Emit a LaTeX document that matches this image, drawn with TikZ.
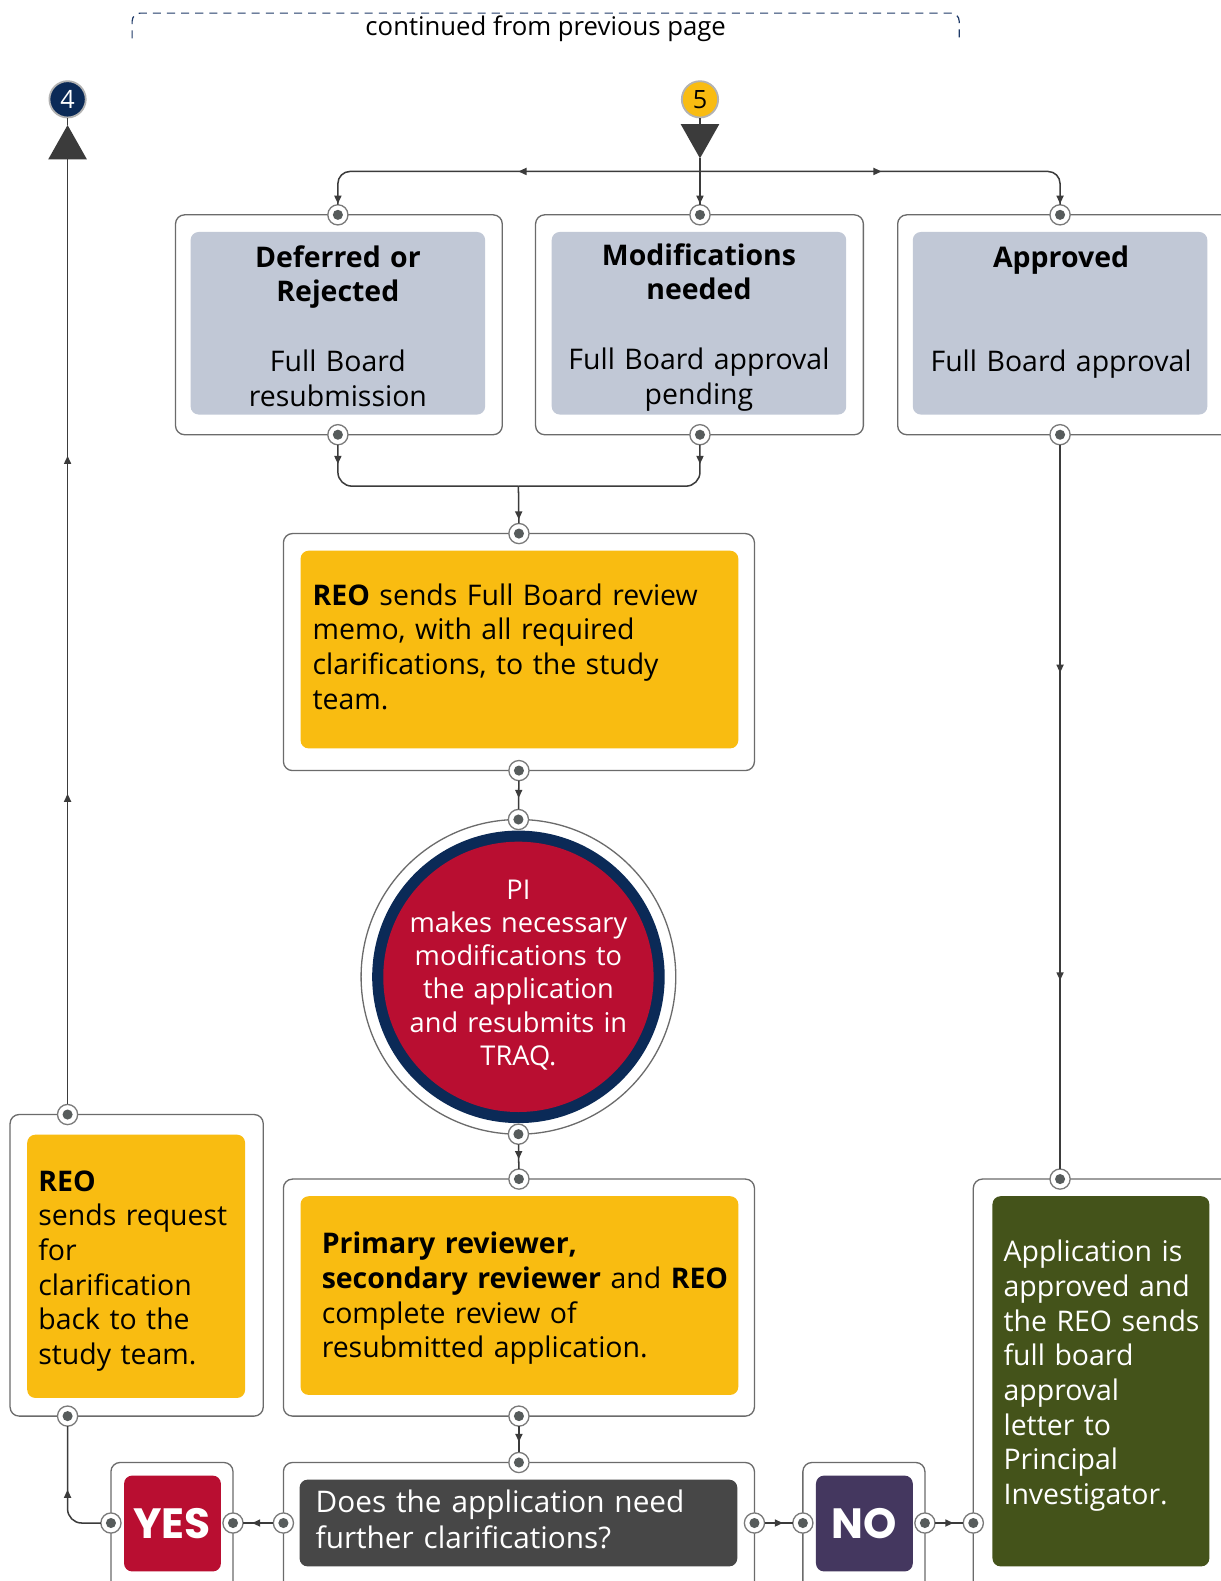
\documentclass[tikz,border=0pt]{standalone}
\usepackage{fontspec}
\setmainfont{Open Sans}
\newfontfamily\geofont{Poppins}
\usetikzlibrary{arrows.meta,decorations.markings,calc}

\definecolor{linec}{HTML}{3B3B3B}
\definecolor{boxline}{HTML}{6B6B6B}
\definecolor{portring}{HTML}{7A7A7A}
\definecolor{dotc}{HTML}{575C5C}
\definecolor{navy}{HTML}{0B2A57}
\definecolor{dashc}{HTML}{1F3A68}
\definecolor{gold}{HTML}{F9BC11}
\definecolor{lgray}{HTML}{C1C8D6}
\definecolor{crimson}{HTML}{B90E31}
\definecolor{dgray}{HTML}{474747}
\definecolor{purp}{HTML}{44375F}
\definecolor{olive}{HTML}{44531A}

\newcommand\fbody{\fontsize{28.2}{34.4}\selectfont}

\begin{document}
\begin{tikzpicture}[x=1pt,y=-1pt,
  outerbox/.style={draw=boxline, fill=white, line width=1.3pt, rounded corners=9pt, inner sep=0pt, outer sep=0pt},
  innerbox/.style={rounded corners=8pt, inner sep=0pt, outer sep=0pt},
  port/.style={circle, draw=portring, fill=white, line width=1.3pt, minimum size=20pt, inner sep=0pt, outer sep=0pt,
    path picture={\fill[dotc] (path picture bounding box.center) circle (5pt);}},
  conn/.style={draw=linec, line width=1.5pt},
  tipat/.style={postaction={decorate,decoration={markings,mark=at position #1 with {\arrow{Triangle[length=8pt,width=7pt]}}}}},
  bigtip/.style={-{Triangle[length=34pt,width=38pt]}},
  txt/.style={inner sep=0pt, outer sep=0pt, font=\fbody},
  numc/.style={circle, minimum size=36pt, inner sep=0pt, draw=gray!60, line width=1.8pt, font=\fontsize{25}{30}\selectfont},
  bigword/.style={inner sep=0pt, outer sep=0pt, text=white, font=\geofont\fontsize{42}{48}\selectfont\bfseries}
]
\useasboundingbox (0,0) rectangle (1210.5,1567.5);
\fill[white] (0,0) rectangle (1210.5,1567.5);

% header
\draw[dashc, line width=1.2pt, dash pattern=on 8pt off 6pt, rounded corners=8pt] (131,38) -- (131,13) -- (951,13) -- (951,38);
\node[txt, font=\fontsize{25.5}{30}\selectfont, anchor=base] (cont) at (541,35) {continued from previous page};

\node[numc, fill=navy, text=white] (n4) at (67,98.5) {4};
\node[numc, fill=gold, text=black] (n5) at (694,98.5) {5};

% row 1 boxes
\node[outerbox, minimum width=324pt, minimum height=218pt] (bA) at (336,322) {};
\node[innerbox, fill=lgray, minimum width=292pt, minimum height=181pt] (iA) at (335,320.5) {};
\node[outerbox, minimum width=325pt, minimum height=218pt] (bB) at (693.5,322) {};
\node[innerbox, fill=lgray, minimum width=292pt, minimum height=181pt] (iB) at (693,320.5) {};
\node[outerbox, minimum width=345pt, minimum height=218pt] (bC) at (1062.5,322) {};
\node[innerbox, fill=lgray, minimum width=292pt, minimum height=181pt] (iC) at (1051,320.5) {};

\node[txt, text width=300pt, align=center, anchor=base] (tA) at (335,265) {{\bfseries Deferred or\\Rejected}\\[34.5pt]Full Board\\resubmission};
\node[txt, text width=300pt, align=center, anchor=base] (tB) at (693,263) {{\bfseries Modifications\\needed}\\[34.5pt]Full Board approval\\pending};
\node[txt, text width=300pt, align=center, anchor=base] (tC) at (1052,265) {{\bfseries Approved}\\[68.7pt]Full Board approval};

% memo box
\node[outerbox, minimum width=467pt, minimum height=235pt] (bM) at (514.5,646.5) {};
\node[innerbox, fill=gold, minimum width=434pt, minimum height=196pt] (iM) at (515,644) {};
\node[txt, text width=430pt, align=left, anchor=base west] (tM) at (310,600) {\textbf{REO} sends Full Board review\\memo, with all required\\clarifications, to the study\\team.};

% circle
\node[circle, draw=boxline, fill=white, line width=1.3pt, minimum size=312pt, inner sep=0pt, outer sep=0pt] (cO) at (514,968.5) {};
\node[circle, fill=navy, minimum size=290pt, inner sep=0pt] (cN) at (cO) {};
\node[circle, fill=crimson, minimum size=268pt, inner sep=0pt] (cR) at (cO) {};
\node[txt, font=\fontsize{27}{32.8}\selectfont, text=white, text width=260pt, align=center, anchor=base] (tCirc) at (514,892) {PI\\makes necessary\\modifications to\\the application\\and resubmits in\\TRAQ.};

% primary reviewer box
\node[outerbox, minimum width=467pt, minimum height=235pt] (bP) at (514.5,1286.5) {};
\node[innerbox, fill=gold, minimum width=434pt, minimum height=197pt] (iP) at (515,1284.5) {};
\node[txt, text width=430pt, align=left, anchor=base west] (tP) at (319,1243) {\textbf{Primary reviewer,}\\\textbf{secondary reviewer} and \textbf{REO}\\complete review of\\resubmitted application.};

% question box
\node[outerbox, minimum width=467pt, minimum height=150pt] (bQ) at (514.5,1525) {};
\node[innerbox, fill=dgray, minimum width=434pt, minimum height=86pt] (iQ) at (514,1510) {};
\node[txt, text=white, font=\fontsize{29.5}{35}\selectfont, text width=430pt, align=left, anchor=base west] (tQ) at (313,1500) {Does the application need\\further clarifications?};

% YES / NO
\node[outerbox, minimum width=121pt, minimum height=150pt] (bY) at (170.5,1525) {};
\node[innerbox, fill=crimson, minimum width=96pt, minimum height=95pt] (iY) at (171,1510.5) {};
\node[bigword, anchor=base] (tY) at (170.5,1525.5) {YES};
\node[outerbox, minimum width=121pt, minimum height=150pt] (bN) at (856.5,1525) {};
\node[innerbox, fill=purp, minimum width=96pt, minimum height=95pt] (iN) at (857,1510.5) {};
\node[bigword, anchor=base] (tN) at (857,1525.5) {NO};

% green box
\node[outerbox, minimum width=270pt, minimum height=431pt] (bG) at (1100,1384.5) {};
\node[innerbox, fill=olive, minimum width=215pt, minimum height=367pt] (iG) at (1091.5,1369.5) {};
\node[txt, text=white, text width=210pt, align=left, anchor=base west] (tG) at (995,1251) {Application is\\approved and\\the REO sends\\full board\\approval\\letter to\\Principal\\Investigator.};

% REO clarification box
\node[outerbox, minimum width=251pt, minimum height=299pt] (bR) at (135.5,1254.5) {};
\node[innerbox, fill=gold, minimum width=216pt, minimum height=261pt] (iR) at (135,1255.5) {};
\node[txt, text width=210pt, align=left, anchor=base west] (tR) at (38,1181) {\textbf{REO}\\sends request\\for\\clarification\\back to the\\study team.};

% ports
\node[port] (pA1) at (iA.north |- bA.north) {};
\node[port] (pA2) at (iA.south |- bA.south) {};
\node[port] (pB1) at (n5 |- bB.north) {};
\node[port] (pB2) at (n5 |- bB.south) {};
\node[port] (pC1) at (iC.north |- bC.north) {};
\node[port] (pC2) at (iC.south |- bC.south) {};
\node[port] (pM1) at (bM.north) {};
\node[port] (pM2) at (bM.south) {};
\node[port] (pO1) at (cO.north) {};
\node[port] (pO2) at (cO.south) {};
\node[port] (pP1) at (bP.north) {};
\node[port] (pP2) at (bP.south) {};
\node[port] (pQ1) at (bQ.north) {};
\node[port] (pQl) at (bQ.west |- iQ.center) {};
\node[port] (pQr) at (bQ.east |- iQ.center) {};
\node[port] (pYl) at (bY.west |- iQ.center) {};
\node[port] (pYr) at (bY.east |- iQ.center) {};
\node[port] (pNl) at (bN.west |- iQ.center) {};
\node[port] (pNr) at (bN.east |- iQ.center) {};
\node[port] (pGl) at (bG.west |- iQ.center) {};
\node[port] (pG1) at (pC2 |- bG.north) {};
\node[port] (pR1) at (n4 |- bR.north) {};
\node[port] (pR2) at (n4 |- bR.south) {};

% coordinates
\coordinate (tip5) at (694,157);
\coordinate (hub) at (694,170);
\coordinate (tip4) at (67,124);
\coordinate (merge) at (514,482);

% connectors top
\draw[conn, bigtip] (n5) -- (tip5);
\draw[conn, tipat=-1pt] (tip5) -- (pB1);
\draw[conn, rounded corners=12pt, tipat=180pt, tipat=-1pt] (hub) -| (pA1);
\draw[conn, rounded corners=12pt, tipat=180pt, tipat=-1pt] (hub) -| (pC1);

\draw[conn, rounded corners=14pt, tipat=19pt] (pA2) |- (merge);
\draw[conn, rounded corners=14pt, tipat=19pt] (pB2) |- (merge);
\draw[conn, tipat=-4pt] (merge) -- (pM1);

\draw[conn, tipat=0.6] (pM2) -- (pO1);
\draw[conn, tipat=0.6] (pO2) -- (pP1);
\draw[conn, tipat=0.6] (pP2) -- (pQ1);

\draw[conn, tipat=0.7] (pQl) -- (pYr);
\draw[conn, tipat=0.65] (pQr) -- (pNl);
\draw[conn, tipat=0.65] (pNr) -- (pGl);

\draw[conn, rounded corners=14pt, tipat=60pt] (pYl) -| (pR2);
\draw[conn, bigtip, tipat=308pt, tipat=643pt] (pR1) -- (tip4);
\draw[conn] (tip4) -- (n4);

\draw[conn, tipat=226pt, tipat=531pt] (pC2) -- (pG1);

\end{tikzpicture}
\end{document}
